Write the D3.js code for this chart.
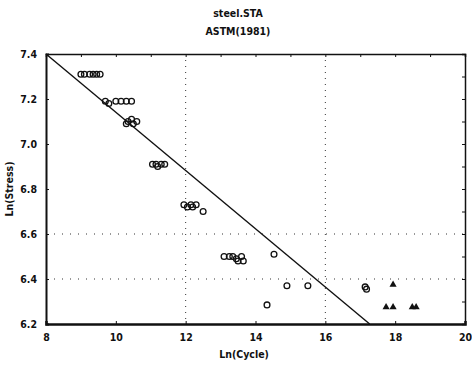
<!DOCTYPE html>
<html>
<head>
<meta charset="utf-8">
<script src="https://d3js.org/d3.v7.min.js"></script>
<style>
  html, body { margin: 0; padding: 0; background: #fff; }
  svg { display: block; }
  text { font-family: "DejaVu Sans Condensed", "Liberation Sans Narrow", sans-serif; font-stretch: condensed; font-weight: bold; fill: #111; }
</style>
</head>
<body>
<svg id="chart" width="472" height="365"></svg>
<script>
// Chart text
const titleLines = ["steel.STA", "ASTM(1981)"];
const xLabel = "Ln(Cycle)";
const yLabel = "Ln(Stress)";

// Axis ticks
const xTicks = [8, 10, 12, 14, 16, 18, 20];
const yTicks = [6.2, 6.4, 6.6, 6.8, 7.0, 7.2, 7.4];
const xGrid = [12, 16];
const yGrid = [6.4, 6.6];

// Failed specimens (circles): ln(cycles) and ln(stress)
const failX = [9.0, 9.1, 9.25, 9.35, 9.45, 9.55,
               9.7, 9.8, 10.0, 10.15, 10.3, 10.45,
               10.3, 10.35, 10.45, 10.5, 10.6,
               11.05, 11.15, 11.2, 11.3, 11.4,
               11.95, 12.05, 12.15, 12.2, 12.3, 12.5,
               13.1, 13.25, 13.35, 13.45, 13.5, 13.6, 13.65,
               14.53, 14.33, 14.9, 15.5, 17.14, 17.18];
const failY = [7.31, 7.31, 7.31, 7.31, 7.31, 7.31,
               7.19, 7.18, 7.19, 7.19, 7.19, 7.19,
               7.09, 7.10, 7.11, 7.09, 7.10,
               6.91, 6.91, 6.90, 6.91, 6.91,
               6.73, 6.72, 6.73, 6.72, 6.73, 6.70,
               6.50, 6.50, 6.50, 6.49, 6.48, 6.50, 6.48,
               6.51, 6.285, 6.37, 6.37, 6.365, 6.355];

// Run-outs (triangles)
const runoutX = [17.94, 17.74, 17.94, 18.49, 18.6];
const runoutY = [6.375, 6.275, 6.275, 6.275, 6.275];

// ASTM E739 fitted line endpoints
const fitX = [8, 17.27];
const fitY = [7.4, 6.2];

const svg = d3.select("#chart");
const margin = { left: 46, right: 7, top: 54, bottom: 41 };
const W = 472, H = 365;

const x = d3.scaleLinear().domain([8, 20]).range([margin.left, W - margin.right]);
const y = d3.scaleLinear().domain([6.2, 7.4]).range([H - margin.bottom, margin.top]);

// Dotted reference grid
svg.append("g").selectAll("line").data(xGrid).join("line")
  .attr("x1", d => x(d)).attr("x2", d => x(d))
  .attr("y1", y(7.4)).attr("y2", y(6.2))
  .attr("stroke", "#333").attr("stroke-width", 1).attr("stroke-dasharray", "1,5");
svg.append("g").selectAll("line").data(yGrid).join("line")
  .attr("x1", x(8)).attr("x2", x(20))
  .attr("y1", d => y(d)).attr("y2", d => y(d))
  .attr("stroke", "#333").attr("stroke-width", 1).attr("stroke-dasharray", "1,7");

// Axes
const fmtY = d3.format(".1f");
svg.append("g")
  .attr("transform", `translate(0,${y(6.2)})`)
  .call(d3.axisBottom(x).tickValues(xTicks).tickSize(-3).tickPadding(10).tickFormat(d3.format("d")))
  .call(g => g.select(".domain").attr("stroke", "#111").attr("stroke-width", 2.5))
  .call(g => g.selectAll("text").attr("font-size", 10.5));
svg.append("g")
  .attr("transform", `translate(${x(8)},0)`)
  .call(d3.axisLeft(y).tickValues(yTicks).tickSize(-3).tickPadding(9).tickFormat(fmtY))
  .call(g => g.select(".domain").attr("stroke", "#111").attr("stroke-width", 2))
  .call(g => g.selectAll("text").attr("font-size", 10.5));
svg.append("g")
  .attr("transform", `translate(0,${y(7.4)})`)
  .call(d3.axisTop(x).ticks(12).tickSize(-3).tickFormat(""))
  .call(g => g.select(".domain").attr("stroke", "#111").attr("stroke-width", 1.5));
svg.append("g")
  .attr("transform", `translate(${x(20)},0)`)
  .call(d3.axisRight(y).ticks(16).tickSize(-3).tickFormat(""))
  .call(g => g.select(".domain").attr("stroke", "#111").attr("stroke-width", 1.5));
svg.selectAll(".tick line").attr("stroke", "#111");

// Fitted line
svg.append("line")
  .attr("x1", x(fitX[0])).attr("y1", y(fitY[0]))
  .attr("x2", x(fitX[1])).attr("y2", y(fitY[1]))
  .attr("stroke", "#111").attr("stroke-width", 1.4);

// Failures
svg.append("g").selectAll("circle").data(failX.map((v, i) => [v, failY[i]])).join("circle")
  .attr("cx", d => x(d[0])).attr("cy", d => y(d[1])).attr("r", 2.9)
  .attr("fill", "none").attr("stroke", "#111").attr("stroke-width", 1.3);

// Run-outs
const tri = d3.symbol().type(d3.symbolTriangle).size(22);
svg.append("g").selectAll("path").data(runoutX.map((v, i) => [v, runoutY[i]])).join("path")
  .attr("d", tri)
  .attr("transform", d => `translate(${x(d[0])},${y(d[1])})`)
  .attr("fill", "#111");

// Titles
svg.append("g").selectAll("text").data(titleLines).join("text")
  .attr("x", 238).attr("y", (d, i) => 17 + i * 18)
  .attr("text-anchor", "middle").attr("font-size", 10.5).text(d => d);

svg.append("text")
  .attr("x", 244).attr("y", 358).attr("text-anchor", "middle")
  .attr("font-size", 10.5).text(xLabel);
svg.append("text")
  .attr("transform", `translate(13,${(y(6.2) + y(7.4)) / 2}) rotate(-90)`)
  .attr("text-anchor", "middle").attr("font-size", 10.5).text(yLabel);
</script>
</body>
</html>
